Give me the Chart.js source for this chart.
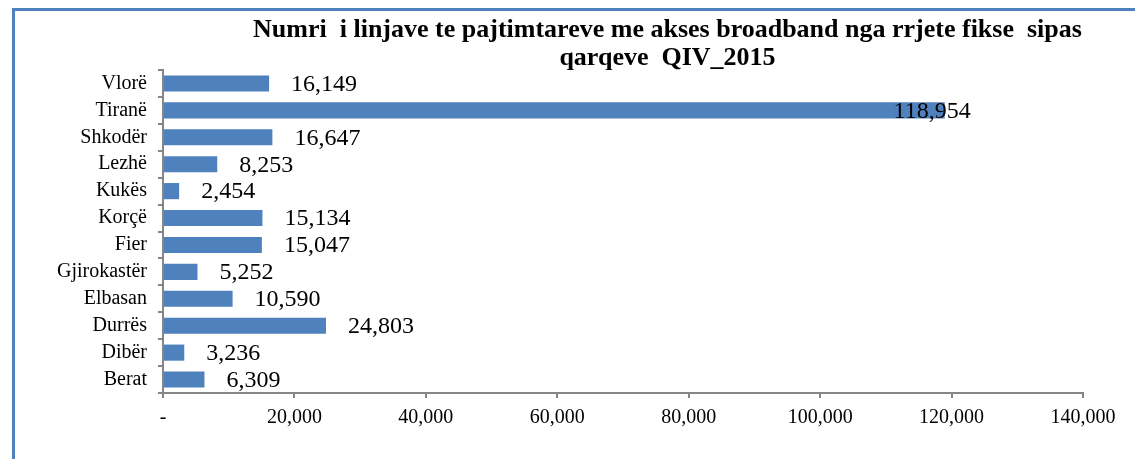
<!DOCTYPE html>
<html>
<head>
<meta charset="utf-8">
<script src="https://cdn.jsdelivr.net/npm/chart.js@4.4.0/dist/chart.umd.min.js"></script>
<style>
    html, body { margin: 0; padding: 0; background: #fff; }
    #wrap { position: relative; width: 1135px; height: 459px; overflow: hidden; }
    #frame {
        position: absolute; left: 12px; top: 8px; width: 1200px; height: 500px;
        border-left: 3px solid #4f81bd; border-top: 3px solid #4f81bd;
    }
    #title {
        position: absolute; left: 200px; width: 935px; top: 15px;
        text-align: center; white-space: pre;
        font: bold 26px 'Times New Roman', 'Liberation Serif', serif;
        line-height: 28px; color: #000;
    }
    canvas { position: absolute; left: 0; top: 0; }
</style>
</head>
<body>
<div id="wrap">
    <div id="frame"></div>
    <canvas id="chart" width="1135" height="459"></canvas>
    <div id="title">Numri  i linjave te pajtimtareve me akses broadband nga rrjete fikse  sipas
qarqeve  QIV_2015</div>
</div>
<script>
    // --- Data ---
    const regions = ['Vlorë', 'Tiranë', 'Shkodër', 'Lezhë', 'Kukës', 'Korçë', 'Fier', 'Gjirokastër', 'Elbasan', 'Durrës', 'Dibër', 'Berat'];
    const lines = [16149, 118954, 16647, 8253, 2454, 15134, 15047, 5252, 10590, 24803, 3236, 6309];
    const xTicks = [0, 20000, 40000, 60000, 80000, 100000, 120000, 140000];

    const serif = "'Times New Roman', 'Liberation Serif', serif";
    const axisColor = '#868686';

    // value labels after each bar
    const valueLabels = {
        id: 'valueLabels',
        afterDatasetsDraw(chart) {
            const ctx = chart.ctx;
            const area = chart.chartArea;
            const meta = chart.getDatasetMeta(0);
            ctx.save();
            ctx.font = '24px ' + serif;
            ctx.fillStyle = '#000';
            ctx.textBaseline = 'middle';
            meta.data.forEach((bar, i) => {
                const text = lines[i].toLocaleString('en-US');
                const w = ctx.measureText(text).width;
                let x = bar.x + 22;
                if (x + w > area.right - 100) x = bar.x + 26 - w;
                ctx.fillText(text, x, bar.y + 1);
            });
            ctx.restore();
        }
    };

    new Chart(document.getElementById('chart'), {
        type: 'bar',
        data: {
            labels: regions,
            datasets: [{
                data: lines,
                backgroundColor: '#4f81bd',
                barPercentage: 0.6,
                categoryPercentage: 1
            }]
        },
        options: {
            indexAxis: 'y',
            responsive: false,
            animation: false,
            layout: { padding: { left: 0, top: 70, right: 52, bottom: 0 } },
            plugins: {
                legend: { display: false },
                tooltip: { enabled: false }
            },
            scales: {
                x: {
                    min: 0,
                    max: 140000,
                    afterBuildTicks: axis => { axis.ticks = xTicks.map(v => ({ value: v })); },
                    afterFit: axis => { axis.height = 66; },
                    grid: { drawOnChartArea: false, tickLength: 5, color: axisColor, lineWidth: 2 },
                    border: { color: axisColor, width: 2 },
                    ticks: {
                        padding: 8,
                        color: '#000',
                        autoSkip: false,
                        font: { family: serif, size: 20 },
                        callback: v => v === 0 ? '-' : v.toLocaleString('en-US')
                    }
                },
                y: {
                    afterFit: axis => { axis.width = 163; },
                    grid: { drawOnChartArea: false, tickLength: 5, color: axisColor, lineWidth: 2 },
                    border: { color: axisColor, width: 2 },
                    ticks: {
                        padding: 11,
                        color: '#000',
                        autoSkip: false,
                        font: { family: serif, size: 20 }
                    }
                }
            }
        },
        plugins: [valueLabels]
    });
</script>
</body>
</html>
